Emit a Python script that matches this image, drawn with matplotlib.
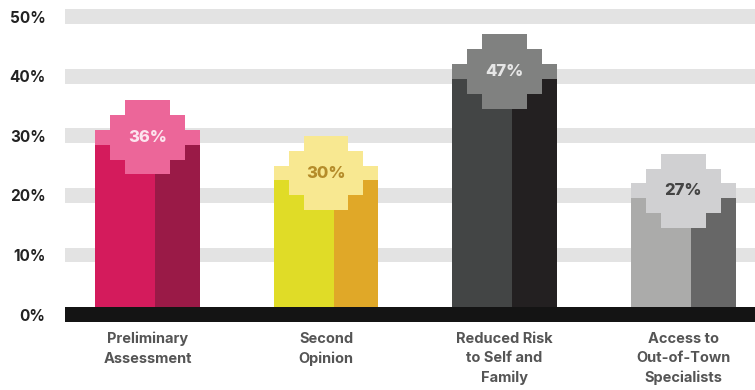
import matplotlib
matplotlib.use("Agg")
import matplotlib.pyplot as plt

# Survey results: share of respondents citing each benefit
categories = ["Preliminary\nAssessment", "Second\nOpinion",
              "Reduced Risk\nto Self and\nFamily", "Access to\nOut-of-Town\nSpecialists"]
values = [36, 30, 47, 27]
tick_values = [0, 10, 20, 30, 40, 50]
tick_labels = ["0%", "10%", "20%", "30%", "40%", "50%"]

cap_colors = ["#EC6699", "#F8E891", "#808180", "#D0D0D2"]
left_colors = ["#D41B5C", "#E0DC27", "#434545", "#ABABAA"]
right_colors = ["#9A1A47", "#E0A828", "#232021", "#676767"]
label_colors = ["#FCE4EE", "#B58C2A", "#E6E6E6", "#444444"]

FONT = ["Inter", "DejaVu Sans"]

fig = plt.figure(figsize=(7.55, 3.9), dpi=100)
ax = fig.add_axes([65 / 755, 68 / 390, 690 / 755, 322 / 390])
ax.set_xlim(-0.462, 3.403)
ax.set_ylim(-1.25, 52.78)

# thick horizontal grid bands
band = 2.5
for t in tick_values[1:]:
    ax.axhspan(t - band / 2, t + band / 2, color="#E3E3E3", lw=0, zorder=0)
# black base
ax.axhspan(-band / 2, band / 2, color="#141414", lw=0, zorder=5)

block = 0.084          # width of one "pixel" block in x units
step = 2.5             # height of one block in y units
cross = [3, 5, 7, 5, 3]

for i, v in enumerate(values):
    x0 = i - 3.5 * block
    col_top = v - 2 * step
    ax.bar(x0, col_top, width=4 * block, align="edge", color=left_colors[i], lw=0, zorder=2)
    ax.bar(x0 + 4 * block, col_top, width=3 * block, align="edge", color=right_colors[i], lw=0, zorder=2)
    for k, nb in enumerate(cross):
        top = v - step * k
        ax.bar(i, step, bottom=top - step, width=nb * block, align="center",
               color=cap_colors[i], lw=0, zorder=3)
    ax.text(i, v - 2.5 * step, f"{v}%", ha="center", va="center", fontsize=12,
            fontweight="heavy", family=FONT, color=label_colors[i], zorder=4)

ax.set_yticks(tick_values)
ax.set_yticklabels(tick_labels, fontsize=11, fontweight="bold", family=FONT, color="#222222")
ax.set_xticks(range(len(categories)))
ax.set_xticklabels(categories, fontsize=10.5, fontweight="bold", family=FONT,
                   color="#555555", linespacing=1.5)
ax.tick_params(axis="y", length=0, pad=14)
ax.tick_params(axis="x", length=0, pad=7)
for s in ax.spines.values():
    s.set_visible(False)

fig.savefig("out.png", dpi=100)
